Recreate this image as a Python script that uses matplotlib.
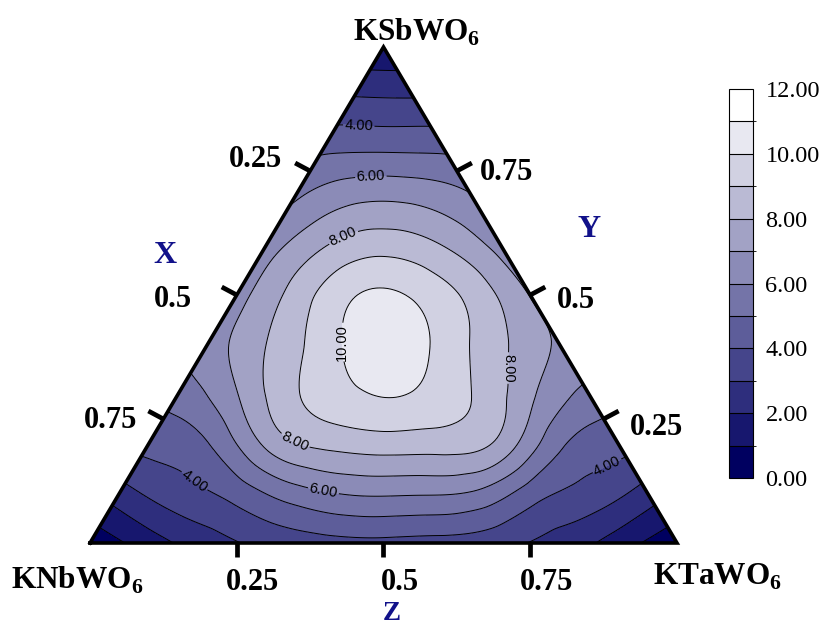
"""Ternary contour map for the KNbWO6 - KTaWO6 - KSbWO6 system."""

import numpy as np
import matplotlib
matplotlib.use('Agg')
import matplotlib.pyplot as plt
import matplotlib.tri as mtri
from matplotlib.colors import LinearSegmentedColormap, ListedColormap, BoundaryNorm
from matplotlib.lines import Line2D

# values read on a 0.1 lattice: one row per KSbWO6 fraction (Y),
# entries run along the KTaWO6 fraction (Z) starting at Z = 0
y_fracs = [0.0, 0.1, 0.2, 0.3, 0.4, 0.5, 0.6, 0.7, 0.8, 0.9, 1.0]
row_y00 = [0.3, 1.5, 2.55, 3.3, 3.65, 3.75, 3.65, 3.35, 2.6, 1.5, 0.3]
row_y01 = [2.55, 3.55, 4.4, 5.55, 6.1, 6.1, 5.9, 4.5, 3.6, 2.55]
row_y02 = [4.3, 4.95, 7.2, 8.25, 8.5, 8.45, 7.7, 5.2, 4.35]
row_y03 = [5.45, 6.95, 8.9, 9.85, 9.95, 9.0, 7.2, 5.7]
row_y04 = [6.5, 8.0, 9.55, 10.6, 9.7, 8.2, 6.85]
row_y05 = [6.6, 8.4, 9.95, 9.9, 8.7, 6.95]
row_y06 = [6.5, 7.95, 8.6, 8.0, 6.6]
row_y07 = [5.85, 6.7, 6.7, 6.05]
row_y08 = [4.72, 4.75, 4.72]
row_y09 = [3.0, 2.95]
row_y10 = [1.05]
value_rows = [row_y00, row_y01, row_y02, row_y03, row_y04, row_y05,
              row_y06, row_y07, row_y08, row_y09, row_y10]

levels = list(range(0, 13))
cbar_ticks = [0, 2, 4, 6, 8, 10, 12]
label_levels = [4, 6, 8, 10]
tick_fracs = [0.25, 0.5, 0.75]
tick_text = ['0.25', '0.5', '0.75']

W, H = 820, 626
SQ = np.sqrt(3) / 2
# triangle in output pixels
XL, XR, YB, YT = 90.0, 677.0, 543.0, 47.0
NAVY = '#11118a'

plt.rcParams['font.family'] = ['Liberation Serif', 'DejaVu Serif']
plt.rcParams['mathtext.fontset'] = 'custom'
plt.rcParams['mathtext.rm'] = 'Liberation Serif'
plt.rcParams['mathtext.bf'] = 'Liberation Serif:bold'


def px_to_data(px, py):
    return (px - XL) / (XR - XL), (YB - py) / (YB - YT) * SQ


def fig_text(px, py, s, **kw):
    fig.text(px / W, 1 - py / H, s, **kw)


def fig_line(p0, p1, **kw):
    fig.add_artist(Line2D([p0[0] / W, p1[0] / W], [1 - p0[1] / H, 1 - p1[1] / H],
                          transform=fig.transFigure, **kw))


xs, ys, vals = [], [], []
for yf, row in zip(y_fracs, value_rows):
    for j, v in enumerate(row):
        zf = j / 10.0
        xs.append(zf + yf / 2)
        ys.append(yf * SQ)
        vals.append(v)

tri = mtri.Triangulation(xs, ys)
refiner = mtri.UniformTriRefiner(tri)
tri_f, val_f = refiner.refine_field(np.array(vals), subdiv=4)
val_f = np.clip(val_f, 0.01, 11.99)

cmap = LinearSegmentedColormap.from_list('navy_white', ['#000060', '#ffffff'])
band_colors = cmap(np.linspace(0, 1, len(levels) - 1))

fig = plt.figure(figsize=(W / 100, H / 100), dpi=100)
ax = fig.add_axes([XL / W, (H - YB) / H, (XR - XL) / W, (YB - YT) / H])
ax.set_xlim(0, 1)
ax.set_ylim(0, SQ)
ax.axis('off')

ax.tricontourf(tri_f, val_f, levels=levels, colors=band_colors)
plain_levels = [lv for lv in levels[1:-1] if lv not in label_levels]
ax.tricontour(tri_f, val_f, levels=plain_levels, colors='black', linewidths=0.7)
cs = ax.tricontour(tri_f, val_f, levels=label_levels, colors='black',
                   linewidths=0.7)

label_spots = [(359, 121), (371, 179), (346, 243), (350, 342), (509, 368),
               (297, 437), (323, 493), (190, 487), (608, 468)]
clabels = ax.clabel(cs, fmt='%.2f', fontsize=10.5, inline=True,
                    inline_spacing=3,
                    manual=[px_to_data(*p) for p in label_spots])
for t in clabels:
    t.set_fontfamily('Liberation Sans')
    # vertical labels: left one reads upwards, right one downwards
    if abs(np.sin(np.radians(t.get_rotation()))) > 0.9:
        t.set_rotation(90 if t.get_position()[0] < 0.5 else 270)

ax.plot([0, 1, 0.5, 0], [0, 0, SQ, 0], color='black', lw=2.6,
        clip_on=False, solid_joinstyle='miter')

# ticks and their labels on the three edges
tick_kw = dict(color='black', lw=3.4, solid_capstyle='butt')
lab_kw = dict(fontsize=22, fontweight='bold', va='baseline')
left_off = [(-28, -4), (-45, 12), (-26, 9)]
right_off = [(26, 16), (27, 13), (23, 9)]
for f, s, lo, ro in zip(tick_fracs, tick_text, left_off, right_off):
    # bottom edge: Z
    bx = XL + (XR - XL) * f
    fig_line((bx, YB), (bx, YB + 14), **tick_kw)
    fig_text(bx + 16, YB + 47, s, ha='center', **lab_kw)
    # left edge: X
    lx = XL + (XR - XL) * (1 - f) / 2
    ly = YB - (YB - YT) * (1 - f)
    fig_line((lx, ly), (lx - 15, ly - 8), **tick_kw)
    fig_text(lx + lo[0], ly + lo[1], s, ha='right', **lab_kw)
    # right edge: Y
    rx = XR - (XR - XL) * f / 2
    ry = YB - (YB - YT) * f
    fig_line((rx, ry), (rx + 15, ry - 8), **tick_kw)
    fig_text(rx + ro[0], ry + ro[1], s, ha='left', **lab_kw)

name_kw = dict(fontsize=22.5, fontweight='bold', va='baseline', ha='left')
fig_text(353, 41, r'KSbWO$_\mathbf{6}$', **name_kw)
fig_text(11, 589, r'KNbWO$_\mathbf{6}$', **name_kw)
fig_text(653, 585, r'KTaWO$_\mathbf{6}$', **name_kw)

axis_kw = dict(fontsize=23, fontweight='bold', va='baseline', ha='center',
               color=NAVY)
fig_text(165, 263, 'X', **axis_kw)
fig_text(589, 237, 'Y', **axis_kw)
fig_text(392, 620, 'Z', **dict(axis_kw, fontsize=19.5))

cax = fig.add_axes([729 / W, (H - 478) / H, 24 / W, 389 / H])
sm = plt.cm.ScalarMappable(norm=BoundaryNorm(levels, len(levels) - 1),
                           cmap=ListedColormap(band_colors))
cb = fig.colorbar(sm, cax=cax, ticks=cbar_ticks, drawedges=True, format='%.2f')
cb.outline.set_linewidth(0.8)
cb.dividers.set_linewidth(0.8)
cax.tick_params(length=0, labelsize=17.5, pad=9)

fig.savefig('out.png', dpi=100)
